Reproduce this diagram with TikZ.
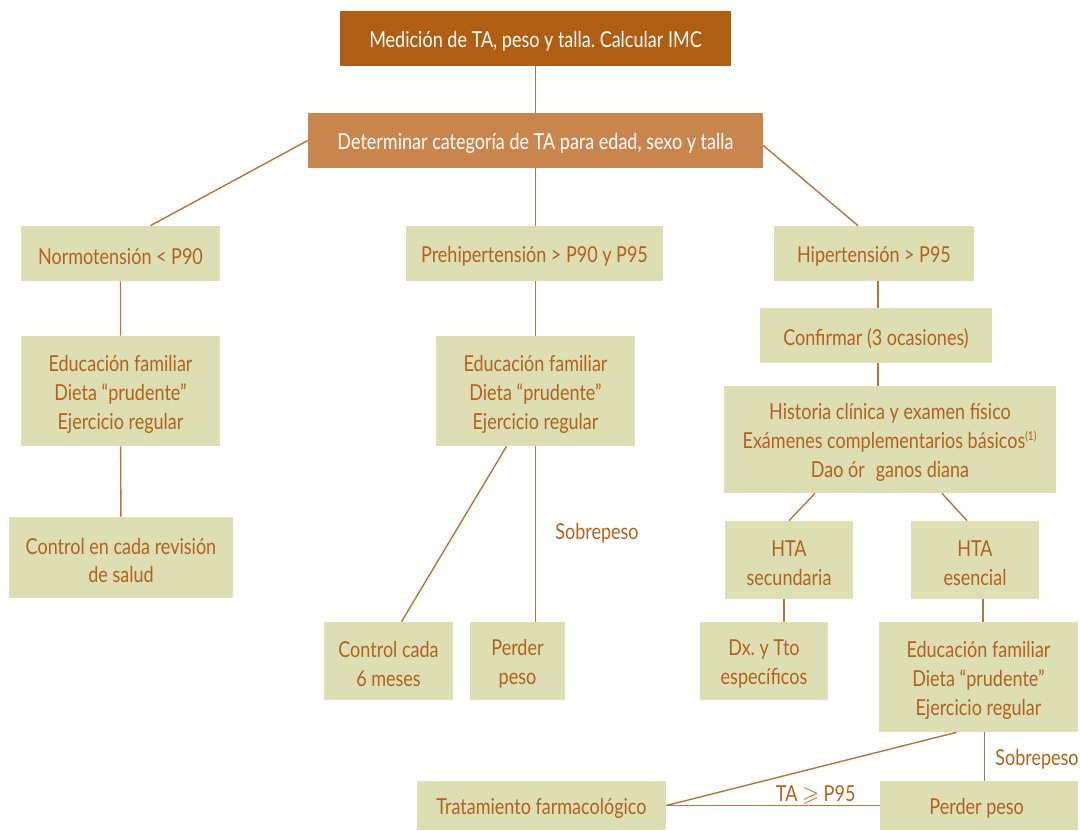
\documentclass[tikz,border=0pt]{standalone}
\usepackage{fontspec}
\usepackage{amssymb}
\setmainfont{Lato}[FakeStretch=0.82]
\frenchspacing
\usetikzlibrary{calc}
\definecolor{boxtop}{HTML}{B05E14}
\definecolor{boxmid}{HTML}{C8864E}
\definecolor{boxgreen}{HTML}{DDDEB4}
\definecolor{txtbrown}{HTML}{B2621C}
\definecolor{linebrown}{HTML}{B8733A}
\tikzset{
  gbox/.style={fill=boxgreen, inner sep=0pt},
  gtxt/.style={text=txtbrown, align=center, inner sep=0pt,
    font=\fontsize{12.5}{16.5}\selectfont},
  link/.style={draw=linebrown, line width=0.8pt},
  lab/.style={text=txtbrown, font=\fontsize{12.5}{16.5}\selectfont}
}
\begin{document}
\begin{tikzpicture}[x=0.02cm, y=-0.02cm]
   \useasboundingbox (0,0) rectangle (1080,831);
   % top of the chart
   \node[gbox, fill=boxtop, minimum width=7.82cm, minimum height=1.1cm] (med) at (535.5,38.5) {};
   \node[gtxt, text=white] at ($(med)+(0,3)$) {Medición de TA, peso y talla. Calcular IMC};
   \node[gbox, fill=boxmid, minimum width=9.1cm, minimum height=1.1cm] (det) at (535.5,140.5) {};
   \node[gtxt, text=white] at ($(det)+(0,3)$) {Determinar categoría de TA para edad, sexo y talla};
   % green boxes
   \foreach \n/\x/\y/\w/\h/\t in
     { normo/120.5/253.5/3.98/1.1/{Normotensión < P90},
       prehip/534.5/253.5/5.14/1.1/{Prehipertensión > P90 y P95},
       hiper/874/253.5/4.0/1.1/{Hipertensión > P95},
       eduA/120.5/391/3.98/2.2/{Educación familiar\\Dieta “prudente”\\Ejercicio regular},
       eduB/535.5/391/3.98/2.2/{Educación familiar\\Dieta “prudente”\\Ejercicio regular},
       conf/876/335.5/4.64/1.1/{Confirmar (3 ocasiones)},
       hist/890/439.5/6.64/2.14/{Historia clínica y examen físico\\Exámenes complementarios básicos\textsuperscript{\scriptsize(1)}\\Dao ór\enspace ganos diana},
       ctrlA/121/557.5/4.48/1.62/{Control en cada revisión\\de salud},
       htasec/789/560/2.56/1.56/{HTA\\secundaria},
       htaes/975/560/2.56/1.56/{HTA\\esencial},
       ctrlB/388.5/661/2.58/1.56/{Control cada\\6 meses},
       perderA/517.5/661/1.9/1.56/{Perder\\peso},
       dx/764/661/2.56/1.56/{Dx. y Tto\\específicos},
       eduC/978.5/677/3.98/2.2/{Educación familiar\\Dieta “prudente”\\Ejercicio regular},
       trat/541.5/805.5/4.98/0.98/{Tratamiento farmacológico},
       perderB/979/805.5/3.96/0.98/{Perder peso}
     }
     {
     \node[gbox, minimum width=\w cm, minimum height=\h cm] (\n) at (\x,\y) {};
     \node[gtxt] at ($(\n)+(0,3)$) {\t};
     }
   % connectors
   \draw[link] (med) -- (det);
   \draw[link] (det.west) -- ($(normo.north)+(30,0)$);
   \draw[link] (det.south) -- (det.south |- prehip.north);
   \draw[link] ($(det.east)+(0,5)$) -- ($(hiper.north)+(-16,0)$);
   \draw[link] (normo) -- (eduA) -- (ctrlA);
   \draw[link] (eduB.north |- prehip.south) -- (eduB.north);
   \draw[link] ($(eduB.south)+(-29,0)$) -- ($(ctrlB.north)+(13,0)$);
   \draw[link] (eduB.south) -- (eduB.south |- perderA.north);
   \node[lab] (sobA) at (597,533) {Sobrepeso};
   \draw[link] ($(conf.north |- hiper.south)+(2,0)$) -- ($(conf.north)+(2,0)$);
   \draw[link] ($(conf.south)+(2,0)$) coordinate (c1) -- (c1 |- hist.north);
   \draw[link] ($(hist.south)+(-75,0)$) -- (htasec.north);
   \draw[link] ($(hist.south)+(52,0)$) -- ($(htaes.north)+(-8,0)$);
   \draw[link] ($(htasec.south)+(-5,0)$) coordinate (c2) -- (c2 |- dx.north);
   \draw[link] ($(htaes.south)+(8,0)$) coordinate (c3) -- (c3 |- eduC.north);
   \draw[link] ($(eduC.south)+(-22,0)$) -- (trat.east);
   \draw[link] ($(eduC.south)+(6,0)$) coordinate (c4) -- (c4 |- perderB.north);
   \node[lab] (sobB) at (1037,759) {Sobrepeso};
   \draw[link] (perderB.west) -- node[lab, pos=0.3, anchor=base, yshift=2pt] {TA $\geqslant$ P95} (trat.east);
\end{tikzpicture}
\end{document}
